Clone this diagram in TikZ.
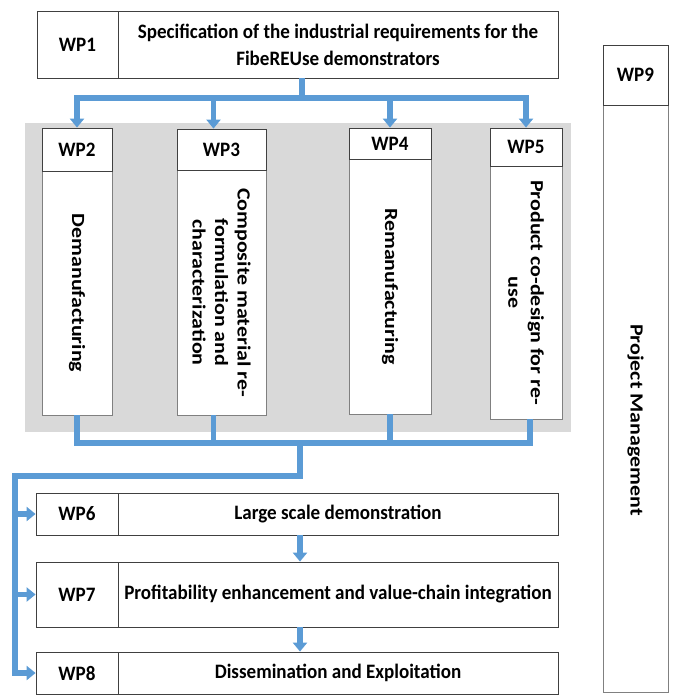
\documentclass[tikz,border=0pt]{standalone}
\usepackage{fontspec}
\setmainfont{Carlito}
% narrow face for the horizontal labels, wide face for the rotated ones
\newfontfamily\hfont[FakeStretch=0.93]{Carlito}
\newfontfamily\vfont[FakeStretch=1.18]{Carlito}
\usetikzlibrary{arrows.meta,calc}
\definecolor{flowblue}{RGB}{91,155,213}
\definecolor{panelgray}{RGB}{217,217,217}
\tikzset{
  cell/.style={draw=black!75, line width=0.8pt, fill=white, inner sep=0pt,
    font=\hfont\fontsize{20.5}{27}\selectfont\bfseries, align=center},
  body/.style={cell, draw=black!50},
  vtext/.style={rotate=-90, align=center, inner sep=0pt,
    font=\vfont\fontsize{18.6}{22.5}\selectfont\bfseries},
  flow/.style={draw=flowblue, line width=5.5pt},
  flowarrow/.style={flow, -{Triangle[width=14pt,length=9pt]}},
}
\begin{document}
\begin{tikzpicture}[x=1pt,y=-1pt]
\useasboundingbox (0,0) rectangle (673,700);

% shaded panel behind WP2--WP5
\fill[panelgray] (25,123) rectangle (571,432);

% WP1
\node[cell, minimum width=81pt, minimum height=67pt] (wp1n) at (77.5,44.5) {WP1};
\node[cell, minimum width=440pt, minimum height=67pt] (wp1t) at (338,44.5)
  {Specification of the industrial requirements for the\\FibeREUse demonstrators};

% WP2 -- WP5 columns
\node[body, minimum width=70pt, minimum height=244pt] (wp2b) at (77,293) {};
\node[cell, minimum width=70pt, minimum height=43pt] (wp2h) at (77,149.5) {WP2};
\node[vtext] (wp2t) at (wp2b.center) {Demanufacturing};

\node[body, minimum width=89pt, minimum height=245pt] (wp3b) at (221.5,292.5) {};
\node[cell, minimum width=89pt, minimum height=41pt] (wp3h) at (221.5,149.5) {WP3};
\node[vtext] (wp3t) at (wp3b.center)
  {Composite material re-\\formulation and\\characterization};

\node[body, minimum width=82pt, minimum height=255pt] (wp4b) at (390,286.5) {};
\node[cell, minimum width=82pt, minimum height=31pt] (wp4h) at (390,143.5) {WP4};
\node[vtext] (wp4t) at (wp4b.center) {Remanufacturing};

\node[body, minimum width=72pt, minimum height=253pt] (wp5b) at (526,292.5) {};
\node[cell, minimum width=72pt, minimum height=38pt] (wp5h) at (526,147) {WP5};
\node[vtext] (wp5t) at (wp5b.center) {Product co-design for re-\\use};

% WP6 -- WP8
\node[cell, minimum width=82pt, minimum height=42pt] (wp6n) at (77,514) {WP6};
\node[cell, minimum width=440pt, minimum height=42pt] (wp6t) at (338,514) {Large scale demonstration};
\node[cell, minimum width=82pt, minimum height=65pt] (wp7n) at (77,594.5) {WP7};
\node[cell, minimum width=440pt, minimum height=65pt] (wp7t) at (338,594.5) {Profitability enhancement and value-chain integration};
\node[cell, minimum width=82pt, minimum height=42pt] (wp8n) at (77,673) {WP8};
\node[cell, minimum width=440pt, minimum height=42pt] (wp8t) at (338,673) {Dissemination and Exploitation};

% WP9
\node[body, minimum width=65pt, minimum height=587pt] (wp9b) at (635.5,398.5) {};
\node[cell, minimum width=65pt, minimum height=60pt] (wp9h) at (635.5,75) {WP9};
\node[vtext] (wp9t) at (635.5,420) {Project Management};

% distribution from WP1 to WP2--WP5
\coordinate (split) at (302,98);
\coordinate (in3) at ([xshift=-8pt]wp3h.north);
\draw[flow] (split |- wp1t.south) -- (split);
\draw[flow, line cap=rect] (wp2h.north |- split) -- (wp5h.north |- split);
\foreach \w in {wp2h.north,in3,wp4h.north,wp5h.north}
  \draw[flowarrow] (\w |- split) -- (\w);

% collection from WP2--WP5
\coordinate (merge) at (300,443);
\coordinate (out3) at ([xshift=-8pt]wp3b.south);
\coordinate (out5) at ([xshift=4pt]wp5b.south);
\foreach \w in {wp2b.south,out3,wp4b.south,out5}
  \draw[flow] (\w) -- (\w |- merge);
\draw[flow, line cap=rect] (wp2b.south |- merge) -- (out5 |- merge);
\coordinate (bend) at (15,476);
\draw[flow, line join=miter, -{Triangle[width=14pt,length=9pt]}]
  (merge) -- (merge |- bend) -- (bend) -- (bend |- wp8n.west) -- (wp8n.west);
\draw[flowarrow] (bend |- wp6n.west) -- (wp6n.west);
\draw[flowarrow] (bend |- wp7n.west) -- (wp7n.west);

% sequence WP6 -> WP7 -> WP8
\draw[flowarrow] (wp6t.south -| merge) -- (wp7t.north -| merge);
\draw[flowarrow] (wp7t.south -| merge) -- (wp8t.north -| merge);
\end{tikzpicture}
\end{document}
